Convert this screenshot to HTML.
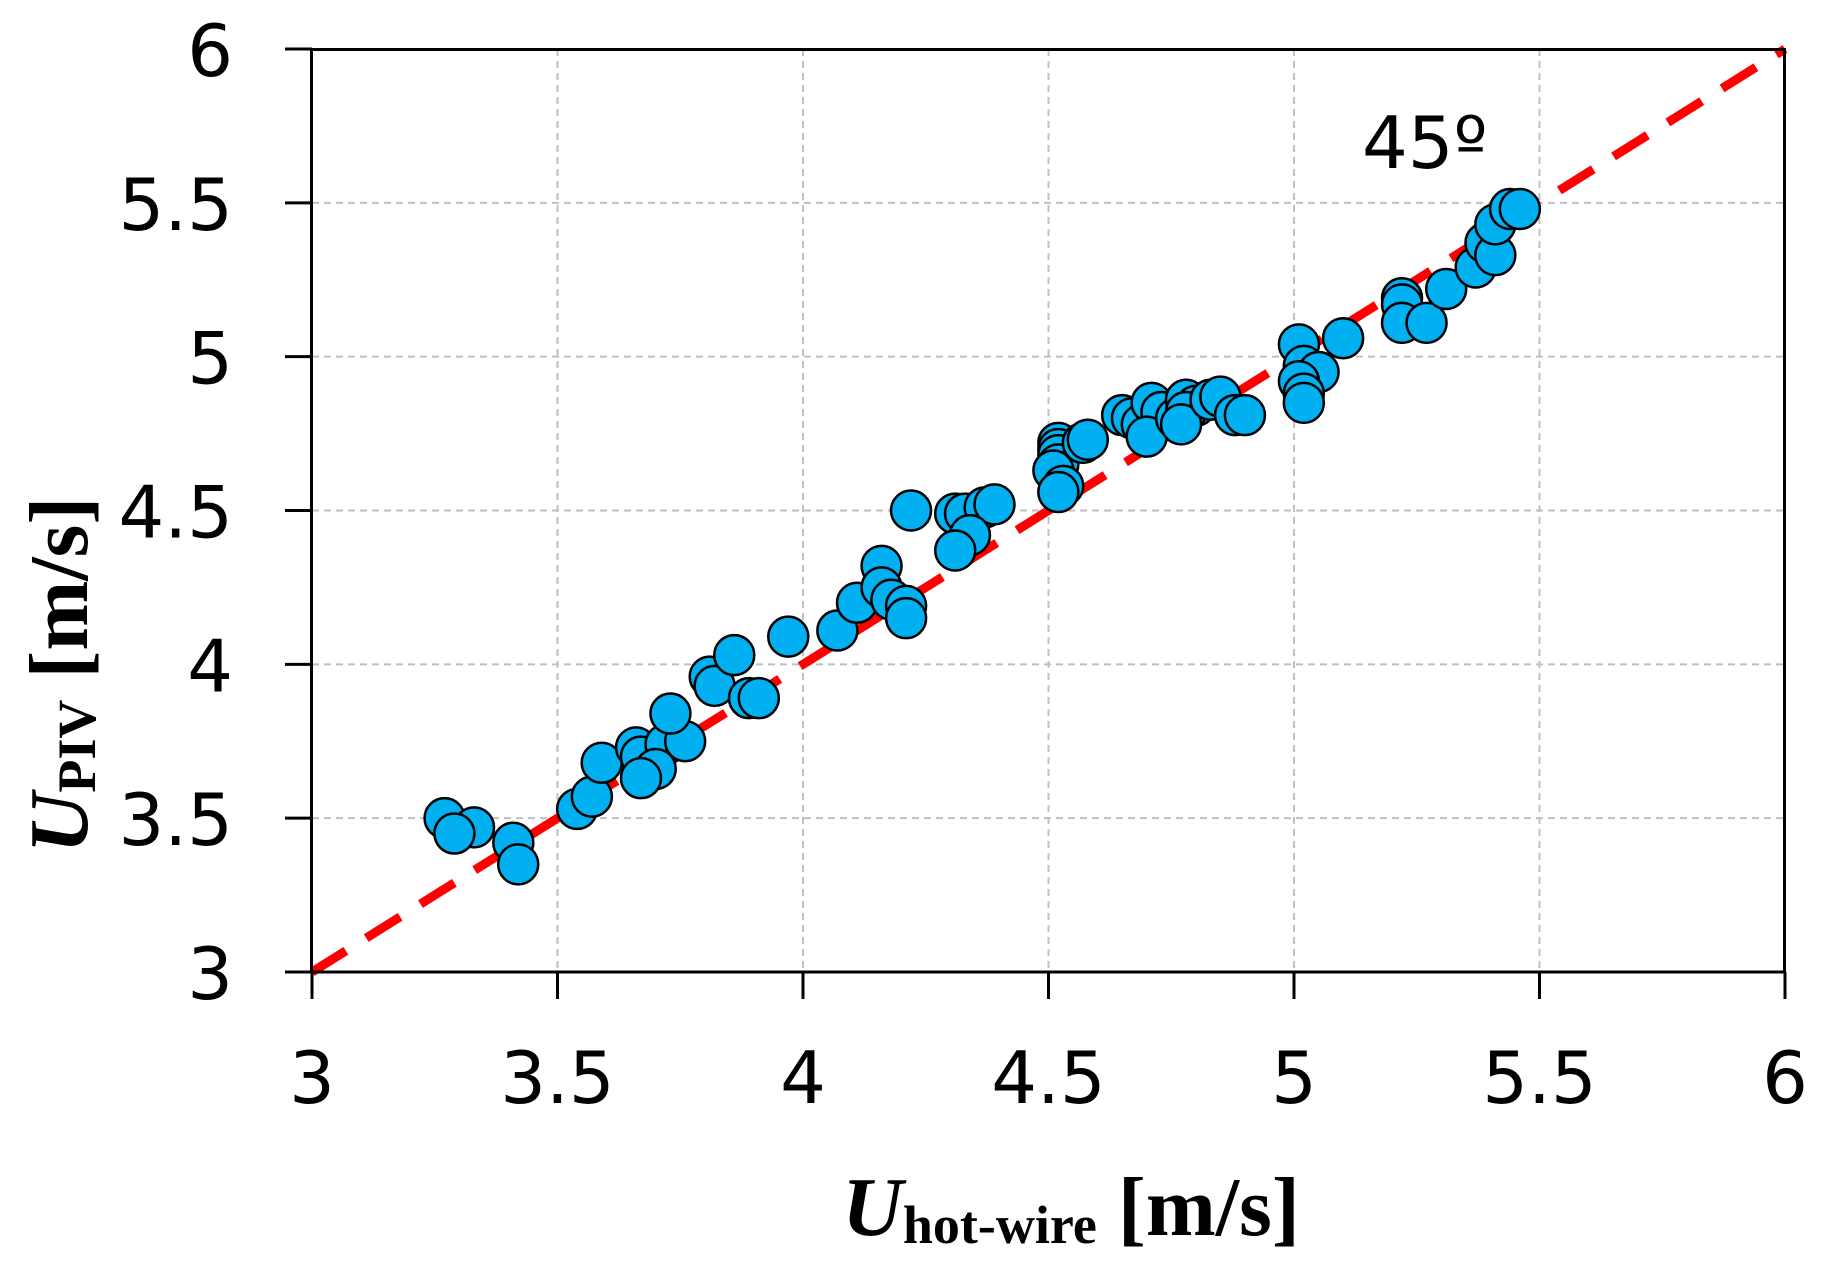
<!DOCTYPE html>
<html><head><meta charset="utf-8"><style>
html,body{margin:0;padding:0;background:#fff;}
svg{display:block;}
</style></head><body>
<svg id="chart" width="1826" height="1270" xmlns="http://www.w3.org/2000/svg">
<g id="grid"></g>
<g id="ref"></g>
<g id="pts"></g>
<rect x="311.5" y="49.5" width="1473" height="922.5" fill="none" stroke="#000" stroke-width="3"/>
<g id="ticks"></g>
<text x="1362" y="168" font-family="DejaVu Sans, sans-serif" font-size="72">45º</text>
<text x="1071" y="1235" text-anchor="middle" font-family="Liberation Serif, serif" font-weight="bold" font-size="84"><tspan font-style="italic">U</tspan><tspan font-size="54" dy="8">hot-wire</tspan><tspan dy="-8"> [m/s]</tspan></text>
<text transform="translate(87,675) rotate(-90)" text-anchor="middle" font-family="Liberation Serif, serif" font-weight="bold" font-size="84"><tspan font-style="italic">U</tspan><tspan font-size="54" dy="8">PIV</tspan><tspan dy="-8">  [m/s]</tspan></text>
</svg>
<script>
const xTicks=[3,3.5,4,4.5,5,5.5,6];
const yTicks=[3,3.5,4,4.5,5,5.5,6];
const tickLabels=["3","3.5","4","4.5","5","5.5","6"];
const refLine=[3,6];
const xVals=[3.27,3.33,3.29,3.41,3.42,3.54,3.57,3.59,3.66,3.67,3.72,3.76,3.73,3.70,3.67,3.81,3.82,3.86,3.89,3.91,3.97,4.07,4.11,4.16,4.16,4.18,4.21,4.21,4.22,4.31,4.34,4.33,4.37,4.39,4.34,4.31,4.52,4.52,4.52,4.52,4.51,4.53,4.52,4.57,4.58,4.65,4.67,4.69,4.71,4.73,4.70,4.76,4.78,4.80,4.78,4.77,4.83,4.85,4.88,4.90,5.01,5.02,5.05,5.01,5.02,5.02,5.10,5.22,5.22,5.22,5.27,5.31,5.37,5.39,5.41,5.41,5.44,5.46];
const yVals=[3.50,3.47,3.45,3.42,3.35,3.53,3.57,3.68,3.73,3.70,3.74,3.75,3.84,3.66,3.63,3.96,3.93,4.03,3.89,3.89,4.09,4.11,4.20,4.32,4.25,4.21,4.19,4.15,4.50,4.49,4.48,4.49,4.51,4.52,4.42,4.37,4.72,4.70,4.68,4.65,4.63,4.58,4.56,4.72,4.73,4.81,4.80,4.78,4.85,4.82,4.74,4.80,4.86,4.84,4.82,4.78,4.86,4.87,4.81,4.81,5.04,4.97,4.95,4.92,4.88,4.85,5.06,5.19,5.17,5.11,5.11,5.22,5.29,5.37,5.33,5.43,5.48,5.48];
const X0=312,X1=1785,Y0=972,Y1=49;
const sx=v=>X0+(v-3)/3*(X1-X0);
const sy=v=>Y0-(v-3)/3*(Y0-Y1);
const NS="http://www.w3.org/2000/svg";
function mk(tag,attrs,parent){const e=document.createElementNS(NS,tag);for(const k in attrs)e.setAttribute(k,attrs[k]);parent.appendChild(e);return e;}
const grid=document.getElementById('grid'),ticks=document.getElementById('ticks');
xTicks.forEach((t,i)=>{
  const x=sx(t);
  const g=mk('line',{x1:x,x2:x,y1:Y1,y2:Y0,stroke:'#c0c0c0','stroke-width':2,'stroke-dasharray':'7,5'},grid);
  
  
  const tk=mk('line',{x1:x,x2:x,y1:Y0,y2:Y0+27,stroke:'#000','stroke-width':3},ticks);
  
  
  const tl=mk('text',{x:x,y:1103,'text-anchor':'middle','font-family':'DejaVu Sans, sans-serif','font-size':72},ticks);
  tl.textContent=tickLabels[i];
  
  
});
yTicks.forEach((t,i)=>{
  const y=sy(t);
  const g=mk('line',{x1:X0,x2:X1,y1:y,y2:y,stroke:'#c0c0c0','stroke-width':2,'stroke-dasharray':'7,5'},grid);
  
  
  const tk=mk('line',{x1:X0-27,x2:X0,y1:y,y2:y,stroke:'#000','stroke-width':3},ticks);
  
  
  const tl=mk('text',{x:233,y:y+27,'text-anchor':'end','font-family':'DejaVu Sans, sans-serif','font-size':72},ticks);
  tl.textContent=tickLabels[i];
  
  
});
const rl=mk('line',{x1:sx(refLine[0]),y1:sy(refLine[0]),x2:sx(refLine[1]),y2:sy(refLine[1]),stroke:'#ff0000','stroke-width':9,'stroke-dasharray':'40,24'},document.getElementById('ref'));


const pts=document.getElementById('pts');
xVals.forEach((v,i)=>{
  const c=mk('circle',{cx:sx(v),cy:sy(yVals[i]),r:20,fill:'#00b0f0',stroke:'#000','stroke-width':2.5},pts);
  
  
});
</script>
</body></html>
